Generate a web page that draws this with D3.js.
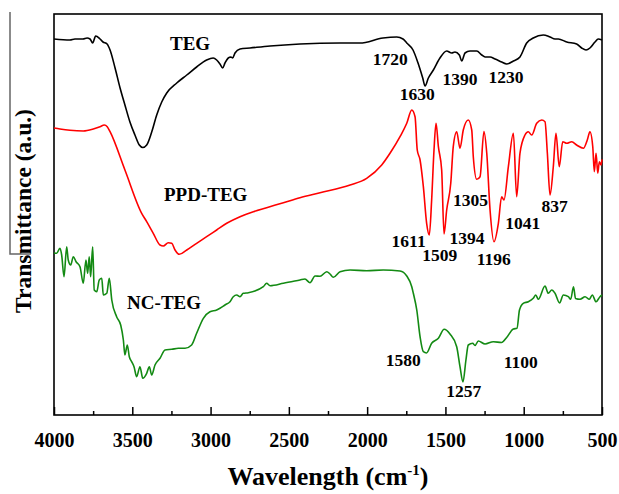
<!DOCTYPE html>
<html>
<head>
<meta charset="utf-8">
<script src="https://cdn.jsdelivr.net/npm/d3@7"></script>
<style>
  body { margin: 0; background: #fff; }
  text { font-family: "Liberation Serif", "Times New Roman", serif; font-weight: bold; }
</style>
</head>
<body>
<div id="my_datavis"></div>
<script>
// spectra, [wavenumber, transmittance a.u.]
const tegData = [
  [4000, 376], [3898, 375], [3866, 376], [3815, 376], [3789, 377], [3770, 376],
  [3753, 372], [3734, 379], [3706, 376], [3687, 373], [3661, 371], [3642, 365],
  [3610, 347], [3578, 327], [3547, 310], [3515, 293], [3483, 280], [3455, 270],
  [3433, 267.5], [3408, 270], [3376, 283], [3344, 300], [3312, 313], [3280, 322],
  [3216, 332], [3152, 340], [3089, 348], [3025, 355], [2983, 357], [2961, 355],
  [2940, 351], [2923, 347], [2908, 352], [2887, 357], [2870, 358], [2859, 357],
  [2844, 362], [2812, 366], [2748, 367], [2620, 369], [2429, 371], [2173, 372],
  [2046, 372], [1899, 377], [1811, 378], [1771, 376], [1747, 372], [1707, 365],
  [1675, 352], [1645, 337], [1630, 329], [1609, 337], [1577, 345], [1535, 357],
  [1492, 364], [1460, 362], [1439, 363], [1411, 360], [1396, 354], [1375, 362],
  [1343, 364], [1300, 364], [1268, 360], [1247, 358], [1215, 358], [1183, 356],
  [1141, 353], [1109, 351], [1066, 354], [1024, 358], [981, 372], [939, 377],
  [875, 380], [832, 378], [800, 376], [779, 376], [725, 373], [662, 371],
  [630, 367], [602, 365], [577, 367], [545, 373], [524, 376], [500, 375]
];

const ppdData = [
  [4000, 287], [3962, 286], [3898, 284.7], [3813, 284], [3749, 286], [3706, 288.3],
  [3679, 290], [3660, 288.3], [3642, 283.3], [3547, 245], [3440, 201.7], [3408, 193.3],
  [3366, 181.7], [3323, 170], [3302, 169], [3270, 172.3], [3248, 171.7], [3227, 165],
  [3200, 160.7], [3152, 165], [3089, 171.7], [3025, 178.3], [2961, 185], [2897, 191.7],
  [2812, 198.3], [2727, 203.3], [2642, 207.3], [2535, 212.3], [2429, 217.3], [2301, 222.3],
  [2109, 230], [2003, 236.7], [1907, 250], [1854, 261.7], [1790, 278.3], [1747, 291.7],
  [1715, 305], [1694, 298.3], [1680, 265], [1662, 255], [1641, 228.3], [1620, 191.7],
  [1603, 180], [1588, 215], [1573, 265], [1560, 291.7], [1545, 268.3], [1524, 245],
  [1509, 181], [1492, 205], [1466, 231.7], [1450, 268.3], [1428, 283.3], [1407, 266.7],
  [1386, 285], [1354, 295], [1332, 285], [1322, 258.3], [1300, 235.7], [1279, 238.3],
  [1254, 283.5], [1236, 261.7], [1215, 205], [1190, 173.3], [1162, 191.7], [1141, 218.3],
  [1126, 215], [1098, 248.3], [1066, 281.7], [1045, 218.3], [1024, 261.7], [992, 280],
  [971, 283.3], [949, 280], [917, 291.7], [885, 295], [864, 293.3], [849, 261.7],
  [832, 220], [811, 248.3], [794, 281.7], [773, 248.3], [751, 273.3], [725, 271.7],
  [693, 273.3], [662, 270], [619, 266.7], [594, 275], [577, 283.3], [559, 268.3],
  [549, 243.3], [538, 261.7], [527, 241.7], [517, 253.3], [506, 250], [500, 255.7]
];

const ncData = [
  [4000, 162.3], [3983, 161.7], [3962, 166.7], [3951, 160], [3936, 138.3], [3919, 168.3],
  [3909, 155], [3893, 150], [3877, 158.3], [3859, 153.3], [3834, 148.3], [3813, 131.7],
  [3796, 155], [3785, 141.7], [3775, 158.3], [3766, 138.3], [3753, 168.3], [3743, 125],
  [3727, 123.3], [3711, 135], [3695, 136.7], [3685, 120], [3663, 121.7], [3647, 136.7],
  [3631, 115], [3600, 98.3], [3574, 90], [3557, 75], [3547, 60], [3532, 70],
  [3519, 58.3], [3504, 53.3], [3489, 48.3], [3472, 38.3], [3451, 48.3], [3433, 36.7],
  [3408, 41.7], [3391, 48.3], [3376, 40], [3355, 50], [3323, 56.7], [3291, 65],
  [3248, 65.7], [3206, 66.7], [3163, 66.7], [3121, 70], [3089, 81.7], [3046, 96.7],
  [3004, 103.3], [2961, 105], [2940, 106.7], [2908, 110], [2876, 113.3], [2855, 118.3],
  [2833, 120], [2812, 118.3], [2791, 121.7], [2759, 122.3], [2663, 128.3], [2642, 131.7],
  [2620, 129.3], [2535, 131.7], [2429, 135], [2397, 136], [2365, 132.3], [2333, 139],
  [2301, 138.7], [2258, 143.3], [2237, 141], [2216, 137.7], [2173, 143.3], [2109, 145],
  [2003, 144.3], [1897, 145], [1790, 144], [1747, 139], [1715, 128.3], [1705, 121.7],
  [1683, 105], [1662, 78.3], [1641, 63.3], [1621, 62], [1588, 71.7], [1545, 76.7],
  [1508, 85.7], [1471, 81], [1428, 68.3], [1407, 48.3], [1388, 33], [1369, 55],
  [1354, 70], [1326, 71.7], [1311, 69.5], [1290, 74], [1247, 71], [1194, 73.3],
  [1141, 72.5], [1109, 77.5], [1066, 86], [1043, 86.7], [1027, 105], [1003, 111.7],
  [971, 113.3], [939, 116.7], [923, 120], [907, 115.7], [864, 129], [843, 121.7],
  [821, 125], [800, 121.7], [771, 112], [747, 120], [715, 118.3], [700, 115.7],
  [682, 128.3], [669, 116.5], [640, 115.7], [608, 118.3], [581, 115.7], [562, 120],
  [538, 113.3], [513, 118.3], [500, 120]
];

const xTicks = [4000, 3500, 3000, 2500, 2000, 1500, 1000, 500];
const xMinorTicks = [3750, 3250, 2750, 2250, 1750, 1250, 750];

// peak labels, [text, wavenumber, transmittance]
const seriesLabels = [["TEG", 3131, 365], ["PPD-TEG", 3031, 214], ["NC-TEG", 3297, 106]];
const peakLabels = [
  ["1720", 1852, 350], ["1630", 1680, 315], ["1390", 1407, 330], ["1230", 1113, 332],
  ["1611", 1735, 168], ["1509", 1537, 154], ["1394", 1362, 171], ["1305", 1340, 209],
  ["1196", 1192, 150], ["1041", 1006, 186], ["837", 803, 203],
  ["1580", 1769, 49], ["1257", 1383, 18], ["1100", 1019, 47]
];

const width = 619;
const height = 494;
const margin = { top: 14, right: 17, bottom: 79, left: 54 };

const svg = d3
  .select("#my_datavis")
  .append("svg")
  .attr("width", width)
  .attr("height", height);

const x = d3
  .scaleLinear()
  .domain([4000, 500])
  .range([margin.left, width - margin.right]);
const y = d3
  .scaleLinear()
  .domain([0, 401])
  .range([height - margin.bottom, margin.top]);

// bottom axis, ticks pointing inward
svg
  .append("g")
  .attr("transform", `translate(0,${height - margin.bottom})`)
  .call(d3.axisBottom(x).tickValues(xMinorTicks).tickSize(-4).tickFormat(""))
  .call((g) => g.select(".domain").remove())
  .selectAll("line")
  .attr("stroke", "#000")
  .attr("stroke-width", 1.5);

const xAxis = svg
  .append("g")
  .attr("transform", `translate(0,${height - margin.bottom})`)
  .call(
    d3
      .axisBottom(x)
      .tickValues(xTicks)
      .tickSize(-8)
      .tickPadding(18)
      .tickFormat(d3.format("d"))
  );
xAxis.select(".domain").remove();
xAxis.selectAll("line").attr("stroke", "#000").attr("stroke-width", 1.5);
xAxis
  .selectAll("text")
  .attr("fill", "#000")
  .style("font-size", "20px")
  .style("font-family", '"Liberation Serif", "Times New Roman", serif')
  .style("font-weight", "bold");

// frame
svg
  .append("rect")
  .attr("x", margin.left)
  .attr("y", margin.top)
  .attr("width", width - margin.left - margin.right)
  .attr("height", height - margin.top - margin.bottom)
  .attr("fill", "none")
  .attr("stroke", "#000")
  .attr("stroke-width", 1.6);

const line = d3
  .line()
  .x((d) => x(d[0]))
  .y((d) => y(d[1]))
  .curve(d3.curveMonotoneX);

const series = [
  { data: tegData, color: "#000000" },
  { data: ppdData, color: "#ff0000" },
  { data: ncData, color: "#138a13" },
];

series.forEach((s) => {
  svg
    .append("path")
    .datum(s.data)
    .attr("fill", "none")
    .attr("stroke", s.color)
    .attr("stroke-width", 1.6)
    .attr("stroke-linejoin", "round")
    .attr("d", line);
});

svg
  .selectAll("text.series-label")
  .data(seriesLabels)
  .enter()
  .append("text")
  .attr("class", "series-label")
  .attr("x", (d) => x(d[1]))
  .attr("y", (d) => y(d[2]))
  .attr("text-anchor", "middle")
  .style("font-size", "19px")
  .text((d) => d[0]);

svg
  .selectAll("text.peak-label")
  .data(peakLabels)
  .enter()
  .append("text")
  .attr("class", "peak-label")
  .attr("x", (d) => x(d[1]))
  .attr("y", (d) => y(d[2]))
  .attr("text-anchor", "middle")
  .style("font-size", "17.5px")
  .text((d) => d[0]);

// axis titles
const xTitle = svg
  .append("text")
  .attr("x", (margin.left + width - margin.right) / 2)
  .attr("y", 485)
  .attr("text-anchor", "middle")
  .style("font-size", "26px")
  .text("Wavelength (cm");
xTitle.append("tspan").attr("dy", -10).style("font-size", "15px").text("-1");
xTitle.append("tspan").attr("dy", 10).text(")");

svg
  .append("text")
  .attr("transform", "translate(31,211) rotate(-90)")
  .attr("text-anchor", "middle")
  .style("font-size", "23.5px")
  .text("Transmittance (a.u.)");

// stray rule next to the y title
svg
  .append("path")
  .attr("d", "M10,12V254H31")
  .attr("fill", "none")
  .attr("stroke", "#666")
  .attr("stroke-width", 1.5);
</script>
</body>
</html>
